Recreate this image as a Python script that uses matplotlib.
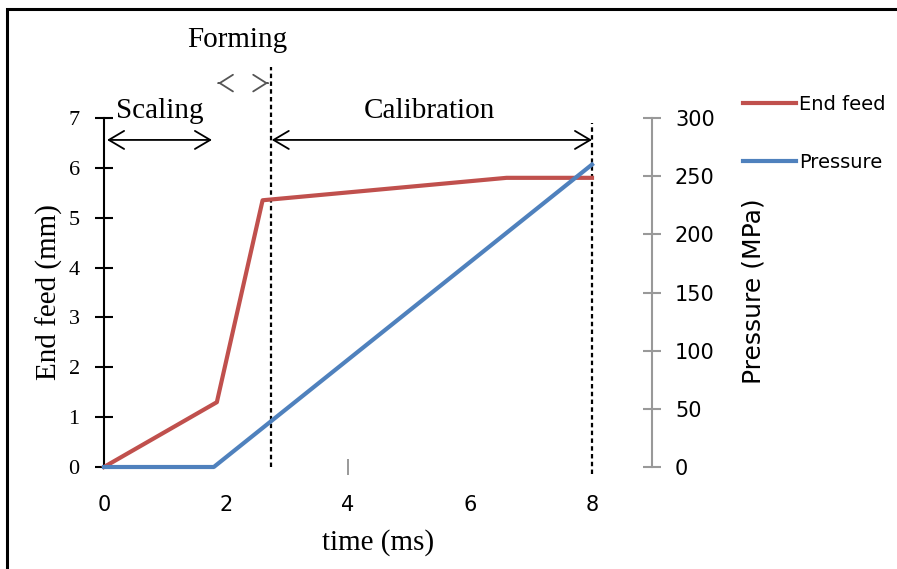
import matplotlib.pyplot as plt
import matplotlib.patches as patches
from matplotlib.ticker import FixedLocator

# End feed (mm) against time (ms)
feed_t = [0, 1.85, 2.6, 6.6, 8.0]
feed_mm = [0, 1.3, 5.35, 5.8, 5.8]

# Pressure (MPa) against time (ms)
pres_t = [0, 1.8, 8.0]
pres_mpa = [0, 0, 260]

# Phase boundaries and annotation positions (time, ms)
t_scaling = (0.05, 1.77)
t_forming = (1.87, 2.69)
t_calib = (2.75, 8.0)
phase_lines = [2.73, 8.0]

red = '#C0504D'
blue = '#4F81BD'
serif = ['Liberation Serif', 'DejaVu Serif']
sans = ['DejaVu Sans']

W, H = 897, 569
fig = plt.figure(figsize=(W / 100, H / 100), dpi=100)

# Axes box: x 0..8 -> px 104..592, y 0..7 -> px 467..118
ax = fig.add_axes([104 / W, (H - 467) / H, 488 / W, 349 / H])
ax.set_xlim(0, 8)
ax.set_ylim(0, 7)
ax.patch.set_visible(False)

ax.plot(feed_t, feed_mm, color=red, lw=3, clip_on=False, zorder=3, label='End feed')

ax2 = ax.twinx()
ax2.set_ylim(0, 300)
ax2.plot(pres_t, pres_mpa, color=blue, lw=3, clip_on=False, zorder=3, label='Pressure')

# spines
for s in ['top', 'right', 'bottom']:
    ax.spines[s].set_visible(False)
ax.spines['left'].set_linewidth(1.5)
for s in ['top', 'left', 'bottom']:
    ax2.spines[s].set_visible(False)
ax2.spines['right'].set_position(('axes', (652 - 104) / 488))
ax2.spines['right'].set_color('#999999')
ax2.spines['right'].set_linewidth(1.5)

# left axis ticks
ax.set_yticks(range(0, 8))
ax.tick_params(axis='y', direction='inout', length=13, width=1.5, pad=11)
for lab in ax.get_yticklabels():
    lab.set_family(serif)
    lab.set_fontsize(16)

# right axis ticks
ax2.set_yticks(range(0, 301, 50))
ax2.tick_params(axis='y', direction='inout', length=13, width=1.5, color='#999999',
                labelsize=15, pad=10)

# x axis: labels only, plus a single small mark at 4
ax.set_xticks([0, 2, 4, 6, 8])
ax.tick_params(axis='x', length=0, labelsize=15, pad=20)
ax.xaxis.remove_overlapping_locs = False
ax.xaxis.set_minor_locator(FixedLocator([4]))
ax.tick_params(axis='x', which='minor', direction='inout', length=11, width=1.2, color='#888888')

# axis labels
ax.set_xlabel('time (ms)', family=serif, fontsize=21, va='center')
ax.xaxis.set_label_coords((378 - 104) / 488, -(543 - 467) / 349)
ax.set_ylabel('End feed (mm)', family=serif, fontsize=21, va='center')
ax.yaxis.set_label_coords((49 - 104) / 488, 0.5)
ax2.set_ylabel('Pressure (MPa)', family=sans, fontsize=18, va='center', rotation=90)
ax2.yaxis.set_label_coords((753 - 104) / 488, 0.505)

# phase boundaries
ax.axvline(phase_lines[0], ymin=0, ymax=1.146, color='black', lw=1.6,
           ls=(0, (2, 1.5)), clip_on=False)
ax.axvline(phase_lines[1], ymin=-0.02, ymax=0.985, color='black', lw=1.6,
           ls=(0, (2, 1.5)), clip_on=False)

# phase arrows
arrow_y = 6.56
arr = dict(arrowstyle='<->,head_length=1.1,head_width=0.65', color='black', lw=1.3,
           shrinkA=0, shrinkB=0)
ax.annotate('', xy=(t_scaling[0], arrow_y), xytext=(t_scaling[1], arrow_y),
            arrowprops=arr, annotation_clip=False)
ax.annotate('', xy=(t_calib[0], arrow_y), xytext=(t_calib[1], arrow_y),
            arrowprops=arr, annotation_clip=False)
head = dict(arrowstyle='->,head_length=0.95,head_width=0.6', color='#555555', lw=1.3,
            shrinkA=0, shrinkB=0)
ax.annotate('', xy=(t_forming[0], 7.7), xytext=(t_forming[0] + 0.01, 7.7),
            arrowprops=head, annotation_clip=False)
ax.annotate('', xy=(t_forming[1], 7.7), xytext=(t_forming[1] - 0.01, 7.7),
            arrowprops=head, annotation_clip=False)

ax.text(0.92, 7.14, 'Scaling', family=serif, fontsize=21, ha='center', va='center')
ax.text(5.34, 7.14, 'Calibration', family=serif, fontsize=21, ha='center', va='center')
ax.text(2.18, 8.57, 'Forming', family=serif, fontsize=21, ha='center', va='center')

# legend
h1, l1 = ax.get_legend_handles_labels()
h2, l2 = ax2.get_legend_handles_labels()
fig.legend(h1 + h2, l1 + l2, loc='upper left', bbox_to_anchor=(743 / W, 1 - 95 / H),
           frameon=False, prop={'family': sans, 'size': 14}, handlelength=2.7,
           handletextpad=0.2, labelspacing=2.0, borderaxespad=0, borderpad=0)

# outer frame
fig.add_artist(patches.Rectangle((7 / W, -0.1), 1.2, 1.1 - 9 / H,
                                 transform=fig.transFigure, fill=False,
                                 edgecolor='black', lw=2.2))

fig.savefig('out.png', dpi=100)
